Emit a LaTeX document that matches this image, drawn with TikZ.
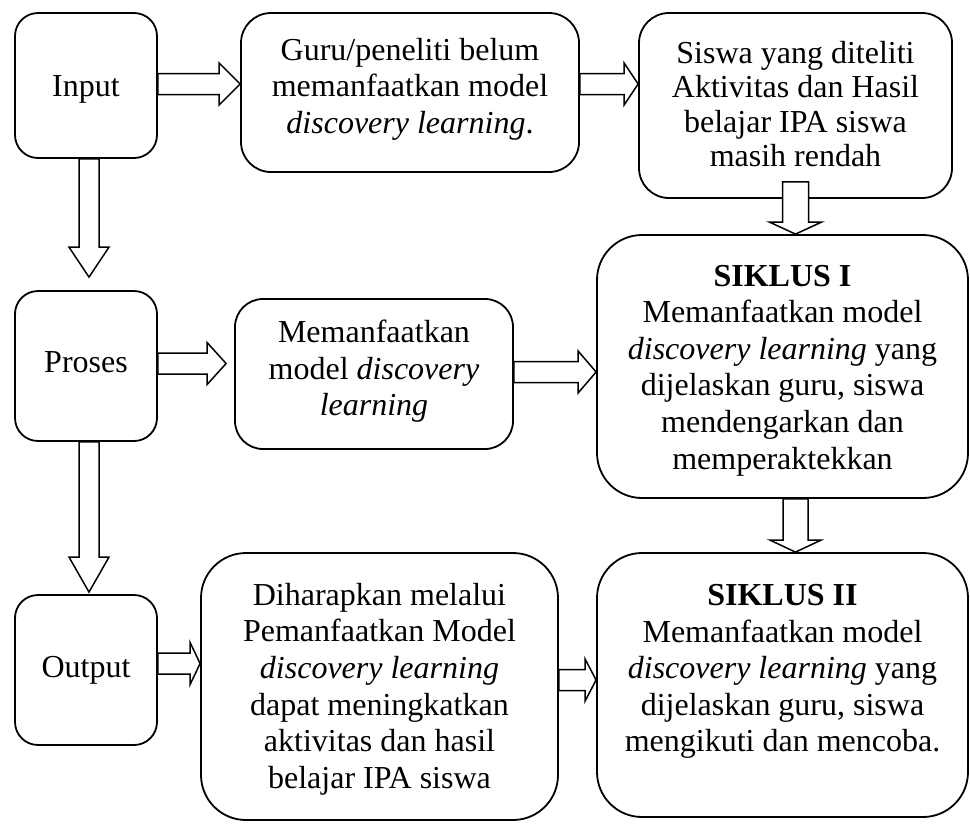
\documentclass[tikz,border=0pt]{standalone}
\usepackage{fontspec}
\setmainfont{Liberation Serif}
\usetikzlibrary{calc}
\tikzset{
  box/.style={draw, line width=1.8pt, rounded corners=#1, inner sep=0pt, fill=white},
  txt/.style={align=center, inner sep=0pt, font=\fontsize{32}{36.6}\selectfont},
  blk/.style={draw, line width=1.5pt, fill=white, line join=miter}
}
\newcommand\harr[3]{\draw[blk] let \p1=#1, \p2=#2 in
  (\x1,\y1+10.5pt) -- (\x2-#3pt,\y1+10.5pt) -- (\x2-#3pt,\y1+21pt) -- (\x2,\y1)
  -- (\x2-#3pt,\y1-21pt) -- (\x2-#3pt,\y1-10.5pt) -- (\x1,\y1-10.5pt) -- cycle;}
\newcommand\varr[5]{\draw[blk] let \p1=#1, \p2=#2 in
  (\x1-#4pt,\y1) -- (\x1-#4pt,\y2+#3pt) -- (\x1-#5pt,\y2+#3pt) -- (\x1,\y2)
  -- (\x1+#5pt,\y2+#3pt) -- (\x1+#4pt,\y2+#3pt) -- (\x1+#4pt,\y1) -- cycle;}
\begin{document}
\begin{tikzpicture}[x=1pt,y=-1pt]
\useasboundingbox (0,0) rectangle (970,823);
% boxes
\node[box=23pt, minimum width=142pt, minimum height=145pt] (input) at (86,85.5) {};
\node[box=30pt, minimum width=338pt, minimum height=159pt] (guru) at (410,92.5) {};
\node[box=30pt, minimum width=313pt, minimum height=185pt] (siswa) at (795.5,105.5) {};
\node[box=23pt, minimum width=142pt, minimum height=150pt] (proses) at (86,366) {};
\node[box=28pt, minimum width=278pt, minimum height=150pt] (memanf) at (374,374) {};
\node[box=45pt, minimum width=371pt, minimum height=263pt] (s1) at (782.5,366.5) {};
\node[box=23pt, minimum width=142pt, minimum height=150pt] (output) at (86,670) {};
\node[box=45pt, minimum width=357pt, minimum height=267pt] (dih) at (379.5,686.5) {};
\node[box=45pt, minimum width=371pt, minimum height=264pt] (s2) at (782.5,685) {};
% texts
\node[txt] (input-t) at ($(input)+(0,4)$) {Input};
\node[txt] (guru-t) at ($(guru)+(0,-3.5)$) {Guru/peneliti belum\\memanfaatkan model\\\textit{discovery learning}.};
\node[txt, font=\fontsize{32}{34.5}\selectfont] (siswa-t) at ($(siswa)+(0,-1.5)$) {Siswa yang diteliti\\Aktivitas dan Hasil\\belajar IPA siswa\\masih rendah};
\node[txt] (proses-t) at ($(proses)+(0,-4)$) {Proses};
\node[txt] (memanf-t) at ($(memanf)+(0,-2.5)$) {Memanfaatkan\\model \textit{discovery}\\\textit{learning}};
\node[txt] (s1-t) at ($(s1)+(0,4)$) {\textbf{SIKLUS I}\\Memanfaatkan model\\\textit{discovery learning} yang\\dijelaskan guru, siswa\\mendengarkan dan\\memperaktekkan};
\node[txt] (output-t) at ($(output)+(0,0)$) {Output};
\node[txt] (dih-t) at ($(dih)+(0,2.5)$) {Diharapkan melalui\\Pemanfaatkan Model\\\textit{discovery learning}\\dapat meningkatkan\\aktivitas dan hasil\\belajar IPA siswa};
\node[txt] (s2-t) at ($(s2)+(0,-13.5)$) {\textbf{SIKLUS II}\\Memanfaatkan model\\\textit{discovery learning} yang\\dijelaskan guru, siswa\\mengikuti dan mencoba.};
% horizontal block arrows
\harr{($(input.east)+(0,-1.5)$)}{(guru.west)}{21}
\harr{($(guru.east)+(0,-8.5)$)}{(siswa.west)}{14}
\harr{($(proses.east)+(0,-2.5)$)}{($(memanf.west)+(-8,0)$)}{19}
\harr{($(memanf.east)+(0,-2)$)}{(s1.west)}{18}
\harr{($(output.east)+(0,-6.5)$)}{(dih.west)}{10}
\harr{($(dih.east)+(0,-6.5)$)}{(s2.west)}{11}
% vertical block arrows
\varr{($(input.south)+(3,0)$)}{($(proses.north)+(0,-13)$)}{30}{10}{20}
\varr{($(proses.south)+(3,0)$)}{($(output.north)+(0,-2)$)}{35}{10}{20}
\varr{($(siswa.south)+(0,-17)$)}{(s1.north)}{12}{13}{26}
\varr{($(s1.south)+(13,0)$)}{(s2.north)}{12}{12.5}{25.5}
\end{tikzpicture}
\end{document}
